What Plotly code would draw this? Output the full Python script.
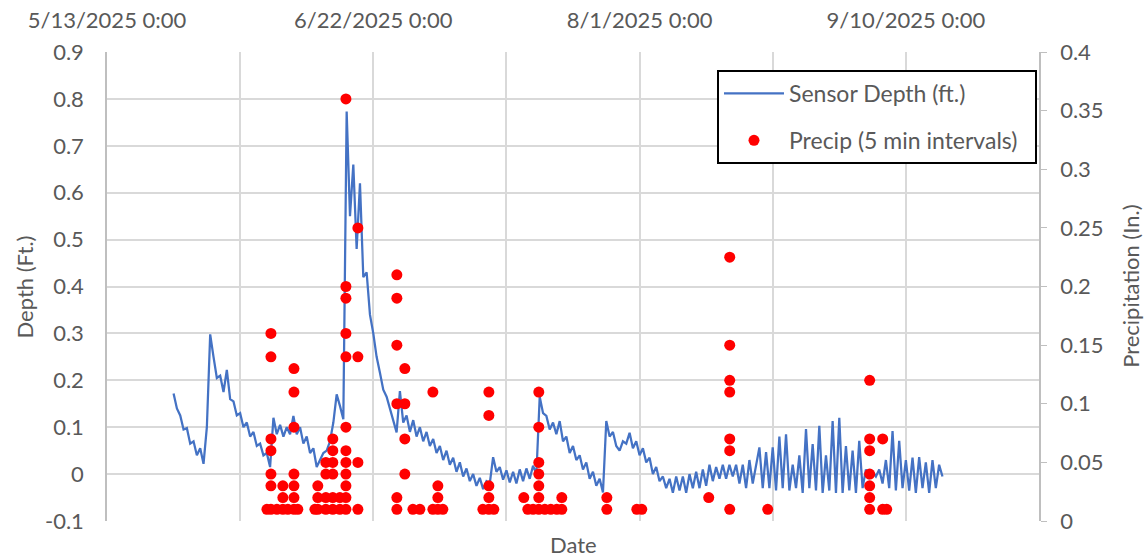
import pandas as pd
import plotly.graph_objects as go

# ---------------- data ----------------
depth_start = "2025-05-23 00:00"   # first sensor reading, readings every 12 h
sensor_depth = [
    0.172, 0.140, 0.125, 0.095, 0.098, 0.065, 0.070, 0.040, 0.055, 0.022,
    0.100, 0.298, 0.250, 0.205, 0.210, 0.175, 0.222, 0.160, 0.155, 0.125,
    0.130, 0.100, 0.110, 0.080, 0.090, 0.060, 0.065, 0.040, 0.045, 0.015,
    0.120, 0.085, 0.105, 0.080, 0.100, 0.085, 0.124, 0.085, 0.100, 0.065,
    0.080, 0.045, 0.055, 0.015, 0.030, 0.045, 0.050, 0.070, 0.110, 0.170,
    0.145, 0.117, 0.773, 0.550, 0.660, 0.480, 0.620, 0.420, 0.430, 0.340,
    0.300, 0.250, 0.216, 0.180, 0.165, 0.138, 0.110, 0.089, 0.177, 0.110,
    0.125, 0.090, 0.115, 0.080, 0.100, 0.070, 0.090, 0.060, 0.075, 0.045,
    0.060, 0.030, 0.050, 0.020, 0.035, 0.005, 0.025, -0.005, 0.012, -0.015,
    0.000, -0.025, -0.008, -0.032, -0.015, -0.020, 0.036, 0.005, 0.015, -0.012,
    0.008, -0.018, 0.005, -0.020, 0.010, -0.015, 0.012, -0.010, 0.018, 0.000,
    0.165, 0.130, 0.124, 0.095, 0.110, 0.085, 0.113, 0.070, 0.080, 0.045,
    0.060, 0.030, 0.040, 0.010, 0.025, -0.010, 0.005, -0.025, -0.010, -0.039,
    0.113, 0.080, 0.090, 0.060, 0.050, 0.070, 0.065, 0.088, 0.055, 0.070,
    0.040, 0.055, 0.025, 0.035, 0.000, 0.015, -0.015, -0.005, -0.030, -0.010,
    -0.040, -0.005, -0.035, -0.005, -0.040, 0.000, -0.030, 0.005, -0.030, 0.010,
    -0.025, 0.020, -0.015, 0.015, -0.010, 0.020, -0.010, 0.020, -0.005, 0.020,
    -0.020, 0.020, -0.030, 0.030, -0.020, 0.020, 0.057, -0.030, 0.047, -0.030,
    0.057, -0.035, 0.080, -0.030, 0.085, -0.035, 0.020, -0.030, 0.040, -0.040,
    0.096, -0.030, 0.064, -0.035, 0.103, -0.040, 0.040, -0.035, 0.113, -0.040,
    0.120, -0.040, 0.060, -0.035, 0.050, -0.040, 0.071, -0.030, 0.010, -0.010,
    0.005, -0.005, 0.010, -0.020, 0.030, -0.030, 0.092, -0.035, 0.071, -0.030,
    0.030, -0.035, 0.035, -0.040, 0.036, -0.030, 0.025, -0.040, 0.030, -0.030,
    0.020, -0.005,
]

precip_event_times = [
    "2025-06-06 00:30", "2025-06-06 15:00", "2025-06-07 12:40", "2025-06-08 10:00",
    "2025-06-09 04:00", "2025-06-10 02:00", "2025-06-10 16:00", "2025-06-13 05:30",
    "2025-06-13 16:00", "2025-06-14 21:00", "2025-06-15 22:00", "2025-06-16 23:30",
    "2025-06-17 21:20", "2025-06-19 16:30", "2025-06-25 13:00", "2025-06-26 17:45",
    "2025-06-27 22:50", "2025-06-29 00:00", "2025-06-30 22:50", "2025-07-01 16:50",
    "2025-07-02 10:50", "2025-07-08 11:00", "2025-07-09 08:40", "2025-07-10 02:40",
    "2025-07-14 14:40", "2025-07-15 05:00", "2025-07-16 00:00", "2025-07-16 20:40",
    "2025-07-17 18:30", "2025-07-18 16:00", "2025-07-19 13:40", "2025-07-20 07:40",
    "2025-07-27 02:00", "2025-07-31 14:00", "2025-08-01 08:00", "2025-08-11 09:20",
    "2025-08-14 13:00", "2025-08-20 06:00", "2025-09-04 13:30", "2025-09-06 12:30",
    "2025-09-07 03:00",
]
precip_event_values = [
    [0.01], [0.16, 0.14, 0.07, 0.06, 0.04, 0.03, 0.01], [0.01], [0.03, 0.02, 0.01],
    [0.01], [0.13, 0.11, 0.08, 0.04, 0.03, 0.02, 0.01], [0.01], [0.01],
    [0.03, 0.02, 0.01], [0.05, 0.04, 0.02, 0.01], [0.07, 0.06, 0.05, 0.04, 0.02, 0.01], [0.02, 0.01],
    [0.36, 0.20, 0.19, 0.16, 0.14, 0.08, 0.06, 0.05, 0.04, 0.03, 0.02, 0.01], [0.25, 0.14, 0.05, 0.01],
    [0.21, 0.19, 0.15, 0.10, 0.02, 0.01], [0.13, 0.10, 0.07, 0.04],
    [0.01], [0.01], [0.11, 0.01], [0.03, 0.02, 0.01],
    [0.01], [0.01], [0.11, 0.09, 0.03, 0.02, 0.01], [0.01],
    [0.02], [0.01], [0.01], [0.11, 0.08, 0.05, 0.04, 0.03, 0.02, 0.01],
    [0.01], [0.01], [0.01], [0.02, 0.01],
    [0.02, 0.01], [0.01], [0.01], [0.02],
    [0.225, 0.15, 0.12, 0.11, 0.07, 0.06, 0.01], [0.01], [0.12, 0.07, 0.06, 0.04, 0.03, 0.02, 0.01], [0.07, 0.01],
    [0.01],
]

x_tick_dates = ["2025-05-13", "2025-06-22", "2025-08-01", "2025-09-10"]
x_tick_labels = ["5/13/2025 0:00", "6/22/2025 0:00", "8/1/2025 0:00", "9/10/2025 0:00"]
depth_ticks = [-0.1, 0, 0.1, 0.2, 0.3, 0.4, 0.5, 0.6, 0.7, 0.8, 0.9]
depth_tick_labels = ["-0.1", "0", "0.1", "0.2", "0.3", "0.4", "0.5", "0.6", "0.7", "0.8", "0.9"]
precip_ticks = [0, 0.05, 0.1, 0.15, 0.2, 0.25, 0.3, 0.35, 0.4]
precip_tick_labels = ["0", "0.05", "0.1", "0.15", "0.2", "0.25", "0.3", "0.35", "0.4"]

# ---------------- build ----------------
depth_times = pd.date_range(depth_start, periods=len(sensor_depth), freq="12h")
precip_x, precip_y = [], []
for t, vals in zip(precip_event_times, precip_event_values):
    for v in vals:
        precip_x.append(t)
        precip_y.append(v)

FONT = "Lato, 'Open Sans', sans-serif"
GREY_TXT = "#595959"
GRID = "#d9d9d9"

fig = go.Figure()
fig.add_trace(go.Scatter(
    x=depth_times, y=sensor_depth, mode="lines", name="Sensor Depth (ft.)",
    line=dict(color="#4472C4", width=2.25), yaxis="y", legendgroup="a",
))
fig.add_trace(go.Scatter(
    x=precip_x, y=precip_y, mode="markers", name="Precip (5 min intervals)\u00a0\u00a0",
    marker=dict(color="#FF0000", size=11), yaxis="y2", legendgroup="b",
))

fig.update_layout(
    width=1146, height=559,
    margin=dict(l=107, r=107, t=52, b=38, autoexpand=False),
    plot_bgcolor="white", paper_bgcolor="white",
    font=dict(family=FONT, size=22, color=GREY_TXT),
    xaxis=dict(
        type="date", side="top", automargin=False,
        range=["2025-05-13", "2025-09-30"],
        tickvals=x_tick_dates, ticktext=x_tick_labels,
        ticks="", showgrid=True, gridcolor=GRID, gridwidth=1.5,
        minor=dict(dtick=20 * 86400000, tick0="2025-05-13", showgrid=True,
                   gridcolor=GRID, gridwidth=1.5),
        showline=False, zeroline=False, ticklabelstandoff=19,
    ),
    yaxis=dict(
        range=[-0.1, 0.9], tickvals=depth_ticks, ticktext=depth_tick_labels,
        automargin=False,
        showgrid=True, gridcolor=GRID, gridwidth=1.5, zeroline=False,
        showline=True, linecolor="#bfbfbf", linewidth=1.5, ticks="",
        ticklabelstandoff=17,
    ),
    yaxis2=dict(
        overlaying="y", side="right", range=[0, 0.4], automargin=False,
        tickvals=precip_ticks, ticktext=precip_tick_labels,
        showgrid=False, zeroline=False, showline=True, linecolor="#bfbfbf",
        linewidth=1.5, ticks="outside", ticklen=6, tickcolor="#bfbfbf",
        ticklabelstandoff=9,
    ),
    legend=dict(
        x=0.6545, y=0.9616, xanchor="left", yanchor="top",
        bgcolor="white", bordercolor="black", borderwidth=2,
        font=dict(family=FONT, size=23, color=GREY_TXT),
        tracegroupgap=14, itemwidth=60,
    ),
    annotations=[
        dict(text="Date", x=0.5, y=-0.051, xref="paper", yref="paper",
             xanchor="center", yanchor="middle", showarrow=False,
             font=dict(size=22, color=GREY_TXT)),
        dict(text="Depth (Ft.)", x=-0.088, y=0.5, xref="paper", yref="paper",
             xanchor="center", yanchor="middle", textangle=-90, showarrow=False,
             font=dict(size=22, color=GREY_TXT)),
        dict(text="Precipitation (In.)", x=1.098, y=0.5, xref="paper", yref="paper",
             xanchor="center", yanchor="middle", textangle=-90, showarrow=False,
             font=dict(size=22, color=GREY_TXT)),
    ],
)

fig.write_html(
    "out.html",
    config={"displayModeBar": False},
    post_script="document.body.style.margin='0';document.body.style.overflow='hidden';",
)
